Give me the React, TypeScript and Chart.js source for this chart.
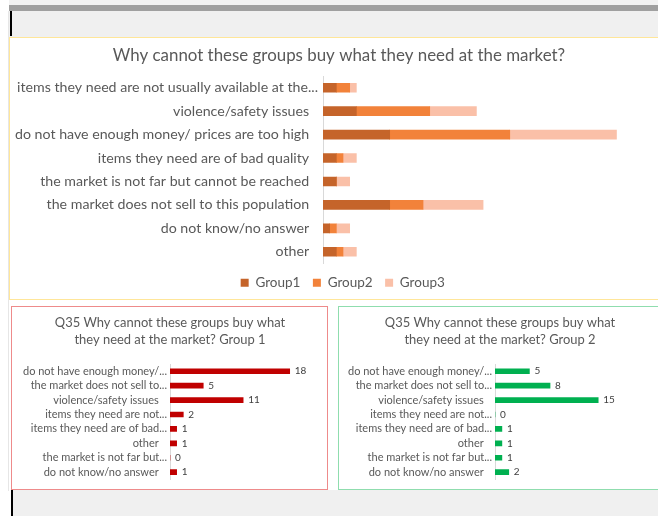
import React, { useEffect, useRef } from 'react';
import { Chart, registerables } from 'chart.js';

Chart.register(...registerables);

// ---------- data ----------
const mainTitle = ['Why cannot these groups buy what they need at the market?'];
const mainCategories = [
  'items they need are not usually available at the...',
  'violence/safety issues',
  'do not have enough money/ prices are too high',
  'items they need are of bad quality',
  'the market is not far but cannot be reached',
  'the market does not sell to this population',
  'do not know/no answer',
  'other',
];
const seriesNames = ['Group1', 'Group2', 'Group3'];
const mainGroup1 = [2, 5, 10, 2, 2, 10, 1, 2];
const mainGroup2 = [2, 11, 18, 1, 0, 5, 1, 1];
const mainGroup3 = [1, 7, 16, 2, 2, 9, 2, 2];

const smallCategories = [
  'do not have enough money/...',
  'the market does not sell to...',
  'violence/safety issues',
  'items they need are not...',
  'items they need are of bad...',
  'other',
  'the market is not far but...',
  'do not know/no answer',
];
const smallTitle1 = ['Q35 Why cannot these groups buy what', 'they need at the market? Group 1'];
const smallTitle2 = ['Q35 Why cannot these groups buy what', 'they need at the market? Group 2'];
const group1Counts = [18, 5, 11, 2, 1, 1, 0, 1];
const group2Counts = [5, 8, 15, 0, 1, 1, 1, 2];

// ---------- styles ----------
const FONT = 'Lato, "Open Sans", sans-serif';
const TEXT = '#595959';
const mainColors = ['#C5642A', '#F2823A', '#FAC0A8'];

const valueLabels = {
  id: 'valueLabels',
  afterDatasetsDraw(chart: any, _args: any, opts: any) {
    if (!opts || !opts.enabled) return;
    const ctx = chart.ctx;
    ctx.save();
    ctx.font = `${opts.size}px ${FONT}`;
    ctx.fillStyle = opts.color;
    ctx.textBaseline = 'middle';
    ctx.textAlign = 'left';
    chart.data.datasets.forEach((ds: any, di: number) => {
      const meta = chart.getDatasetMeta(di);
      meta.data.forEach((bar: any, i: number) => {
        ctx.fillText(String(ds.data[i]), bar.x + opts.offset, bar.y);
      });
    });
    ctx.restore();
  },
};

// title centred at a chosen x (Chart.js centres its title inside the layout padding)
const centerTitle = {
  id: 'centerTitle',
  afterDraw(chart: any, _args: any, opts: any) {
    if (!opts || !opts.lines) return;
    const ctx = chart.ctx;
    ctx.save();
    ctx.font = `${opts.size}px ${FONT}`;
    ctx.fillStyle = opts.color;
    ctx.textBaseline = 'middle';
    ctx.textAlign = 'center';
    opts.lines.forEach((line: string, i: number) => {
      ctx.fillText(line, opts.x, opts.y + i * opts.lineHeight);
    });
    ctx.restore();
  },
};

// nudge the legend row horizontally after layout
const legendShift = {
  id: 'legendShift',
  afterLayout(chart: any, _args: any, opts: any) {
    const l = chart.legend;
    if (!l || !opts || !opts.dx) return;
    l.left += opts.dx;
    l.right += opts.dx;
  },
};

function padLabel(label: string, pad: string) {
  return label.endsWith('...') ? label : label + pad;
}

function MainChart() {
  const ref = useRef<HTMLCanvasElement>(null);
  useEffect(() => {
    const chart = new Chart(ref.current!, {
      type: 'bar',
      data: {
        labels: mainCategories,
        datasets: [mainGroup1, mainGroup2, mainGroup3].map((d, i) => ({
          label: seriesNames[i],
          data: d,
          backgroundColor: mainColors[i],
          barThickness: 9,
        })),
      },
      options: {
        indexAxis: 'y',
        responsive: false,
        animation: false,
        layout: { padding: { left: 5, right: 11.5, top: 38, bottom: 0.5 } },
        plugins: {
          title: { display: false },
          centerTitle: { lines: mainTitle, x: 329, y: 17.5, lineHeight: 20, size: 16.9, color: TEXT },
          legendShift: { dx: 7 },
          legend: {
            display: true,
            position: 'bottom',
            labels: {
              color: TEXT,
              font: { family: FONT, size: 13.5 },
              boxWidth: 8,
              boxHeight: 8,
              padding: 12.5,
            },
          },
          tooltip: { enabled: false },
        },
        scales: {
          x: { stacked: true, display: false, min: 0, max: 50 },
          y: {
            stacked: true,
            afterFit: (s: any) => { s.width = 308; },
            grid: { display: false, drawTicks: false },
            border: { display: true, color: '#D9D9D9', width: 1 },
            ticks: {
              color: TEXT,
              font: { family: FONT, size: 14.2 },
              padding: 5,
              autoSkip: false,
              callback: function (this: any, v: any) {
                return padLabel(this.getLabelForValue(v), '\u2002\u2009');
              },
            },
          },
        },
      } as any,
      plugins: [centerTitle, legendShift],
    });
    return () => chart.destroy();
  }, []);
  return <canvas ref={ref} width={658} height={262} style={{ position: 'absolute', left: 10, top: 38, width: 658, height: 262 }} />;
}

function SmallChart(props: { title: string[]; data: number[]; color: string; left: number; width: number; axisWidth: number; padRight: number; titleX: number }) {
  const ref = useRef<HTMLCanvasElement>(null);
  useEffect(() => {
    const chart = new Chart(ref.current!, {
      type: 'bar',
      data: {
        labels: smallCategories,
        datasets: [{ label: 'count', data: props.data, backgroundColor: props.color, barThickness: 5 }],
      },
      options: {
        indexAxis: 'y',
        responsive: false,
        animation: false,
        layout: { padding: { left: 0, right: props.padRight, top: 57, bottom: 9.5 } },
        plugins: {
          title: { display: false },
          centerTitle: { lines: props.title, x: props.titleX, y: 15.5, lineHeight: 17, size: 12.95, color: TEXT },
          legend: { display: false },
          tooltip: { enabled: false },
          valueLabels: { enabled: true, size: 10, color: '#404040', offset: 5 },
        },
        scales: {
          x: { display: false, min: 0, max: 20 },
          y: {
            afterFit: (s: any) => { s.width = props.axisWidth; },
            grid: { display: false, drawTicks: false },
            border: { display: true, color: '#D9D9D9', width: 1 },
            ticks: {
              color: TEXT,
              font: { family: FONT, size: 11 },
              padding: 3,
              autoSkip: false,
              callback: function (this: any, v: any) {
                return padLabel(this.getLabelForValue(v), '\u2002\u2009\u2009');
              },
            },
          },
        },
      } as any,
      plugins: [valueLabels, centerTitle],
    });
    return () => chart.destroy();
  }, []);
  return <canvas ref={ref} width={props.width} height={182} style={{ position: 'absolute', left: props.left, top: 307, width: props.width, height: 182 }} />;
}

export default function App() {
  const abs = (s: any) => ({ position: 'absolute' as const, ...s });
  return (
    <div style={{ position: 'fixed', left: 0, top: 0, width: 658, height: 516, overflow: 'hidden', background: '#FFFFFF' }}>
      <div style={abs({ left: 9, top: 0, width: 649, height: 5, background: '#F2F2F2' })} />
      <div style={abs({ left: 9, top: 5, width: 649, height: 6, background: '#A0A0A0' })} />
      <div style={abs({ left: 9, top: 11, width: 649, height: 26, background: '#F0F0F0' })} />
      <div style={abs({ left: 10, top: 11, width: 2, height: 25, background: '#000000' })} />
      <div style={abs({ left: 8, top: 11, width: 1, height: 480, background: '#E6E6E6' })} />
      <div style={abs({ left: 9, top: 37, width: 680, height: 263, borderTop: '1px solid #FFE699', borderLeft: '1px solid #FFE699', borderBottom: '1px solid #FFE699', boxSizing: 'border-box', background: '#FFFFFF' })} />
      <MainChart />
      <div style={abs({ left: 11, top: 306, width: 317, height: 184, border: '1px solid #EE8B8B', boxSizing: 'border-box' })} />
      <div style={abs({ left: 338, top: 306, width: 340, height: 184, border: '1px solid #8FDDAE', boxSizing: 'border-box' })} />
      <SmallChart title={smallTitle1} data={group1Counts} color="#C00000" left={12} width={316} axisWidth={158} padRight={25} titleX={158} />
      <SmallChart title={smallTitle2} data={group2Counts} color="#00B050" left={339} width={322} axisWidth={156} padRight={28.4} titleX={161} />
      <div style={abs({ left: 11, top: 490, width: 647, height: 26, background: '#F0F0F0' })} />
      <div style={abs({ left: 11, top: 490, width: 2, height: 26, background: '#000000' })} />
    </div>
  );
}
